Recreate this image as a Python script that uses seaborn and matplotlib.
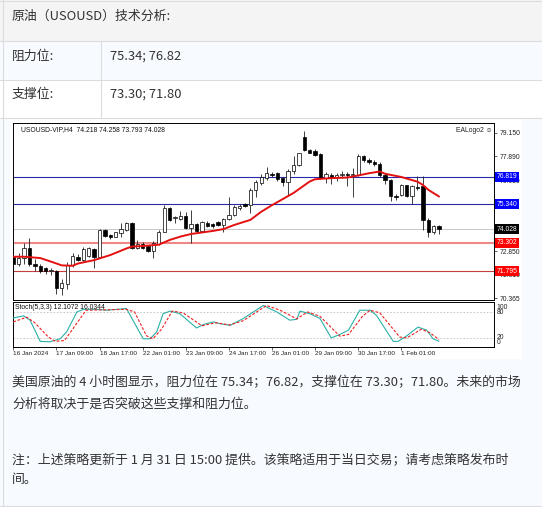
import matplotlib
matplotlib.use("Agg")
import matplotlib.pyplot as plt
from matplotlib.patches import Rectangle
from matplotlib.lines import Line2D
import pandas as pd
import seaborn as sns

# ---------------- data ----------------
title_text = "原油（USOUSD）技术分析:"
row_labels = ["阻力位:", "支撑位:"]
row_values = ["75.34; 76.82", "73.30; 71.80"]
body_lines = [
    "美国原油的 4 小时图显示，阻力位在 75.34；76.82，支撑位在 73.30；71.80。未来的市场",
    "分析将取决于是否突破这些支撑和阻力位。",
    "注：上述策略更新于 1 月 31 日 15:00 提供。该策略适用于当日交易；请考虑策略发布时",
    "间。",
]
chart_header = "USOUSD-VIP,H4  74.218 74.258 73.793 74.028"
logo_text = "EALogo2 ☺"
stoch_header = "Stoch(5,3,3) 12.1072 16.0344"

opens = [72.56, 72.15, 72.50, 73.00, 72.20, 72.05, 71.95, 71.80, 71.80, 70.90,
         71.10, 72.10, 72.55, 72.40, 72.60, 72.95, 72.55, 74.00, 73.70, 73.62,
         73.80, 74.00, 74.35, 73.05, 73.25, 73.15, 72.85, 73.25, 73.90, 75.15,
         74.60, 74.55, 74.70, 74.10, 74.30, 73.95, 74.35, 74.30, 74.40, 74.25,
         74.55, 74.80, 75.15, 75.35, 75.30, 76.10, 76.50, 76.75, 76.95, 77.00,
         76.75, 76.55, 77.10, 77.45, 78.95, 78.25, 78.20, 78.00, 76.75, 76.90,
         76.80, 76.90, 76.95, 76.90, 76.90, 77.90, 77.70, 77.62, 77.50, 76.90,
         76.65, 75.80, 75.85, 76.35, 75.80, 76.25, 76.30, 74.50, 73.85, 74.218]
highs = [72.70, 72.75, 73.30, 73.55, 72.45, 72.20, 72.00, 71.95, 71.85, 71.40,
         72.30, 72.75, 72.70, 73.10, 73.10, 73.05, 74.05, 74.05, 73.75, 73.90,
         74.35, 74.40, 74.40, 73.45, 73.35, 73.20, 73.40, 74.00, 75.30, 75.20,
         74.75, 75.00, 74.95, 75.05, 74.35, 74.45, 74.45, 74.35, 74.45, 74.60,
         75.76, 75.30, 75.35, 75.40, 76.20, 76.65, 76.95, 77.35, 77.05, 77.05,
         76.80, 77.20, 77.90, 78.10, 79.22, 78.30, 78.30, 78.10, 77.05, 77.00,
         77.00, 77.10, 77.05, 77.30, 78.00, 77.95, 77.80, 77.70, 77.60, 77.00,
         76.70, 75.90, 76.45, 76.40, 76.35, 76.85, 76.85, 74.60, 74.25, 74.258]
lows = [72.10, 72.05, 72.20, 72.05, 71.80, 71.70, 71.65, 71.60, 70.60, 70.50,
        70.85, 72.00, 72.35, 72.35, 72.55, 71.95, 72.50, 73.60, 73.50, 73.60,
        73.60, 73.95, 72.95, 72.95, 72.95, 72.80, 72.50, 73.20, 73.85, 74.45,
        74.35, 74.50, 74.05, 73.30, 73.90, 73.90, 74.15, 74.10, 74.20, 73.90,
        74.50, 74.75, 75.05, 75.20, 74.90, 75.75, 76.40, 76.65, 76.80, 76.60,
        76.30, 75.85, 76.95, 77.40, 78.20, 78.05, 77.90, 76.70, 76.50, 76.45,
        76.60, 76.75, 76.30, 75.75, 76.85, 77.60, 77.50, 77.40, 76.80, 76.45,
        75.50, 75.60, 75.80, 75.75, 75.35, 76.10, 74.00, 73.60, 73.75, 73.793]
closes = [72.20, 72.50, 73.00, 72.15, 72.05, 71.80, 71.80, 71.85, 70.90, 71.15,
          72.10, 72.60, 72.40, 72.95, 73.00, 72.55, 74.00, 73.65, 73.60, 73.85,
          74.05, 74.35, 73.05, 73.25, 73.00, 72.85, 73.30, 73.90, 75.15, 74.50,
          74.65, 74.75, 74.10, 74.30, 73.95, 74.40, 74.20, 74.20, 74.25, 74.55,
          74.80, 75.20, 75.25, 75.25, 76.10, 76.55, 76.80, 77.00, 76.90, 76.70,
          76.55, 77.10, 77.45, 78.05, 78.25, 78.10, 77.95, 76.75, 76.95, 76.80,
          76.90, 76.95, 76.90, 76.95, 77.90, 77.70, 77.62, 77.50, 76.90, 76.65,
          75.80, 75.75, 76.40, 75.80, 76.30, 76.20, 74.50, 73.85, 74.20, 74.028]

ma_idx = [0, 2, 5, 7, 9, 11, 12, 15, 18, 21, 22, 24, 27, 29, 31, 33, 37, 39, 41,
          44, 46, 48, 52, 55, 56, 59, 62, 64, 66, 68, 69, 72, 75, 76, 77, 79]
ma_val = [72.56, 72.56, 72.49, 72.30, 72.10, 72.08, 72.20, 72.38, 72.65, 73.00,
          73.10, 73.13, 73.20, 73.45, 73.63, 73.77, 73.93, 74.03, 74.25, 74.52,
          74.95, 75.30, 75.95, 76.56, 76.68, 76.74, 76.77, 76.88, 77.00, 77.09,
          76.97, 76.80, 76.55, 76.38, 76.12, 75.76]

k_idx = [0, 1.9, 3.1, 5, 6.8, 8.7, 9.9, 11.8, 13, 15.5, 17.3, 21, 24.1, 25.4, 26.6,
         27.8, 29.1, 30.9, 34, 35.3, 37.1, 38.3, 40.2, 42.7, 46.4, 48.9, 51.3,
         52.6, 53.2, 55, 56.9, 59, 60.6, 62.2, 64.3, 66.2, 67.4, 70.5, 71.4, 72.7,
         75.1, 76.7, 77.9, 79]
k_val = [66, 71, 61, 12, 11, 18, 34, 80, 86, 86, 84, 88, 18, 18, 34, 76, 82, 76,
         43, 51, 57, 53, 49, 65, 95, 80, 61, 63, 82, 76, 65, 20, 28, 38, 84, 84,
         72, 12, 12, 22, 45, 38, 18, 12.1]
d_idx = [0, 2.5, 4, 6.5, 7.8, 9.5, 11, 13.5, 21, 22.5, 24.7, 25.9, 27.5, 29.5,
         31.5, 35, 37.5, 40.2, 42.7, 47, 49.5, 52.6, 54.6, 56.9, 60.6, 62.2, 64.8,
         66.2, 68, 71.7, 73, 75.7, 77.3, 79]
d_val = [57, 68, 55, 22, 12, 14, 40, 84, 86, 80, 25, 18, 40, 82, 78, 48, 55, 50,
         60, 95, 84, 64, 80, 70, 24, 28, 70, 84, 78, 22, 20, 40, 32, 16]

date_tick_idx = [0, 8, 16, 24, 32, 40, 48, 56, 64, 72]
date_tick_labels = ["16 Jan 2024", "17 Jan 09:00", "18 Jan 17:00", "22 Jan 01:00",
                    "23 Jan 09:00", "24 Jan 17:00", "26 Jan 01:00", "29 Jan 09:00",
                    "30 Jan 17:00", "1 Feb 01:00"]
price_ticks = [79.150, 77.890, 76.630, 72.850, 71.610, 70.365]
resist_levels = [76.819, 75.340]
support_levels = [73.302, 71.795]
current_price = 74.028
stoch_levels = [80, 20]
stoch_tick_vals = [100, 80, 20, 0]

# ---------------- style ----------------
sns.set_style("white")
plt.rcParams["font.family"] = ["Noto Sans CJK SC", "DejaVu Sans"]
CJK = ["Noto Sans CJK SC", "DejaVu Sans"]
MT = ["Liberation Sans", "DejaVu Sans"]
FS = 4.9

W, H = 542, 507
fig = plt.figure(figsize=(W / 100, H / 100), dpi=100)
fig.patch.set_facecolor("white")


def fx(x):
    return x / W


def fy(y):
    return 1 - y / H


def rect(x0, y0, x1, y1, color, z=0):
    fig.add_artist(Rectangle((fx(x0), fy(y1)), (x1 - x0) / W, (y1 - y0) / H,
                             transform=fig.transFigure, facecolor=color,
                             edgecolor="none", zorder=z))


def hline(y, x0, x1, color="#dcdcdc", lw=0.8):
    fig.add_artist(Line2D([fx(x0), fx(x1)], [fy(y), fy(y)], transform=fig.transFigure,
                          color=color, lw=lw, zorder=1))


def vline(x, y0, y1, color="#dcdcdc", lw=0.8):
    fig.add_artist(Line2D([fx(x), fx(x)], [fy(y0), fy(y1)], transform=fig.transFigure,
                          color=color, lw=lw, zorder=1))


# page background / table
rect(0, 0, W, 40.5, "#f4f4f4")
rect(0, 40.5, W, 79.5, "#f7faff")
rect(0, 79.5, W, 117.5, "#ffffff")
rect(0, 117.5, W, H, "#f7faff")
rect(10, 119, 522, 359, "#ffffff", z=0.5)
hline(0.5, 0, W)
hline(40.5, 0, W)
hline(79.5, 0, W)
hline(117.5, 0, W)
hline(505.5, 0, W)
vline(101, 40.5, 117.5)
vline(2.5, 0, 505.5)

txt_color = "#333333"
TFS = 9.3
fig.text(fx(12), fy(16), title_text, fontsize=TFS, family=CJK, color=txt_color, va="center")
for lab, val, y in zip(row_labels, row_values, [56, 94]):
    fig.text(fx(12), fy(y), lab, fontsize=TFS, family=CJK, color=txt_color, va="center")
    fig.text(fx(110), fy(y), val, fontsize=TFS, family=CJK, color=txt_color, va="center")
for line, y in zip(body_lines, [383, 404, 461, 479]):
    fig.text(fx(12), fy(y), line, fontsize=TFS, family=CJK, color=txt_color, va="center")

# ---------------- chart axes ----------------
ax = fig.add_axes([fx(12.5), fy(300), (494 - 12.5) / W, (300 - 123) / H])
ax2 = fig.add_axes([fx(12.5), fy(347), (494 - 12.5) / W, (347 - 302) / H])
for a in (ax, ax2):
    a.set_facecolor("white")
    for s in a.spines.values():
        s.set_color("black")
        s.set_linewidth(0.7)
    a.set_xlim(-0.15, 89.2)
    a.set_zorder(2)

ax.set_ylim(70.26, 79.67)
ax2.set_ylim(-1, 103)

df = pd.DataFrame({"o": opens, "h": highs, "l": lows, "c": closes})
df["i"] = range(len(df))
bull = df[df.c >= df.o]
bear = df[df.c < df.o]

# level lines
for v in resist_levels:
    ax.axhline(v, color="#2a2aa8", lw=0.8, zorder=1)
ax.axhline(current_price, color="#c8c8c8", lw=0.7, zorder=1)
ax.axhline(support_levels[0], color="#ee8888", lw=1.5, zorder=1)
ax.axhline(support_levels[1], color="#c83c3c", lw=0.8, zorder=1)

# candles
ax.vlines(df.i, df.l, df.h, color="#202020", lw=0.6, zorder=3)
ax.bar(bull.i, bull.c - bull.o, bottom=bull.o, width=0.62, color="white",
       edgecolor="black", linewidth=0.5, zorder=4)
ax.bar(bear.i, bear.o - bear.c, bottom=bear.c, width=0.62, color="black",
       edgecolor="black", linewidth=0.5, zorder=4)

# moving average
sns.lineplot(x=ma_idx, y=ma_val, ax=ax, color="#e41010", lw=1.4, zorder=5)

# price axis
ax.set_xticks([])
ax.yaxis.tick_right()
ax.set_yticks(price_ticks)
ax.set_yticklabels([f"{v:.3f}" for v in price_ticks], family=MT, fontsize=FS)
ax.tick_params(axis="y", right=True, length=2.5, width=0.5, pad=1.5, colors="#222222")
ax.set_ylabel("")

box_levels = [(resist_levels[0], "#0000ff"), (resist_levels[1], "#0000ff"),
              (current_price, "#000000"), (support_levels[0], "#ff0000"),
              (support_levels[1], "#ff0000")]
for v, fc in box_levels:
    ax.text(1.0055, v, f"{v:.3f}", transform=ax.get_yaxis_transform(), ha="left",
            va="center", color="white", fontsize=FS, family=MT, clip_on=False,
            bbox=dict(boxstyle="square,pad=0.22", fc=fc, ec="none"), zorder=10)

ax.text(0.018, 0.982, chart_header, transform=ax.transAxes, ha="left", va="top",
        fontsize=FS, family=MT, color="#111111")
ax.text(0.922, 0.958, logo_text, transform=ax.transAxes, ha="left", va="center",
        fontsize=FS, family=["Liberation Sans", "DejaVu Sans"], color="#222222")

# stochastic
for lv in stoch_levels:
    ax2.axhline(lv, color="#c0c0c0", lw=0.6, ls=(0, (2, 2)), zorder=1)
sns.lineplot(x=k_idx, y=k_val, ax=ax2, color="#2ab0a6", lw=0.8, zorder=3)
sns.lineplot(x=d_idx, y=d_val, ax=ax2, color="#f02020", lw=0.8, linestyle=(0, (2.5, 1.5)),
             zorder=3)
ax2.set_yticks([])
ax2.set_ylabel("")
ax2.text(0.006, 0.87, stoch_header, transform=ax2.transAxes, ha="left", va="center",
         fontsize=FS, family=MT, color="#111111", zorder=6)
for v in stoch_tick_vals:
    yy = {100: 91, 80: 79, 20: 21, 0: 10}[v]
    ax2.text(1.006, yy, str(v), transform=ax2.get_yaxis_transform(), ha="left",
             va="center", fontsize=FS, family=MT, color="#222222", clip_on=False)

ax2.set_xticks(date_tick_idx)
ax2.set_xticklabels(date_tick_labels, family=MT, fontsize=4.6, ha="left", color="#222222")
ax2.tick_params(axis="x", bottom=True, length=2, width=0.5, pad=1.2)
ax2.set_xlabel("")

fig.savefig("out.png", dpi=100)
